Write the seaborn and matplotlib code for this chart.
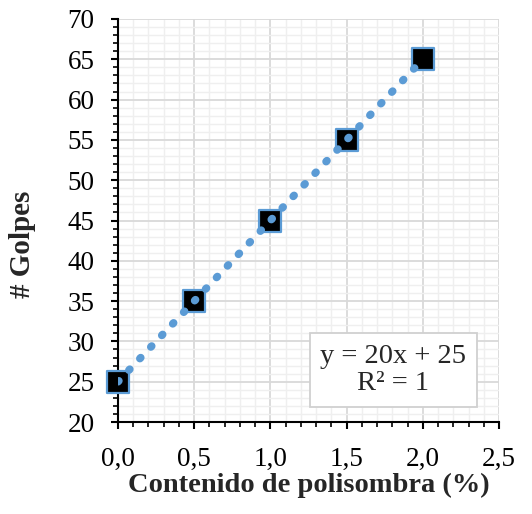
import matplotlib
matplotlib.use("Agg")
import matplotlib.pyplot as plt
import seaborn as sns
import numpy as np
import pandas as pd
from matplotlib.ticker import MultipleLocator, FuncFormatter

# Data
contenido = [0.0, 0.5, 1.0, 1.5, 2.0]
golpes = [25, 35, 45, 55, 65]
x_ticks = [0.0, 0.5, 1.0, 1.5, 2.0, 2.5]
y_ticks = [20, 25, 30, 35, 40, 45, 50, 55, 60, 65, 70]
eq_text = "y = 20x + 25\nR² = 1"
x_label = "Contenido de polisombra (%)"
y_label = "# Golpes"

df = pd.DataFrame({"x": contenido, "y": golpes})

sns.set_theme(style="white")
plt.rcParams["font.family"] = ["Liberation Serif", "DejaVu Serif"]

fig = plt.figure(figsize=(5.32, 5.14), dpi=100)
ax = fig.add_axes([118/532, 1-422/514, (499-118)/532, (422-19)/514])

blue = "#5B9BD5"

sns.scatterplot(data=df, x="x", y="y", marker="s", s=240, color="black",
                edgecolor=blue, linewidth=1.6, ax=ax, zorder=3, clip_on=False)
sns.regplot(data=df, x="x", y="y", scatter=False, ci=None, ax=ax,
            line_kws=dict(color=blue, linewidth=5.6, linestyle=(0, (0.15, 1.9)),
                          dash_capstyle="round", solid_capstyle="round", zorder=4))

ax.set_xlim(0, 2.5)
ax.set_ylim(20, 70)
ax.set_xticks(x_ticks)
ax.set_yticks(y_ticks)
ax.xaxis.set_minor_locator(MultipleLocator(0.1))
ax.yaxis.set_minor_locator(MultipleLocator(1))
ax.xaxis.set_major_formatter(FuncFormatter(lambda v, p: f"{v:.1f}".replace(".", ",")))
ax.yaxis.set_major_formatter(FuncFormatter(lambda v, p: f"{int(round(v))}"))

ax.grid(which="major", color="#d9d9d9", lw=1.3, zorder=0)
ax.grid(which="minor", color="#efefef", lw=1.0, zorder=0)
ax.set_axisbelow(True)

for s in ["top", "right"]:
    ax.spines[s].set_visible(False)
for s in ["left", "bottom"]:
    ax.spines[s].set_color("black")
    ax.spines[s].set_linewidth(1.5)

ax.tick_params(which="major", direction="out", length=5, width=1.5,
               color="black", labelsize=19.5, labelcolor="black",
               bottom=True, left=True)
ax.tick_params(axis="x", which="major", pad=13)
ax.tick_params(axis="y", which="major", pad=12)
ax.tick_params(which="minor", direction="out", length=3.6, width=1.2,
               color="black", bottom=True, left=True)

ax.set_xlabel(x_label, fontsize=20.5, fontweight="bold")
ax.set_ylabel(y_label, fontsize=21, fontweight="bold")
ax.xaxis.set_label_coords(0.5, -0.127)
ax.yaxis.set_label_coords(-0.215, 0.44)

ax.text(0.723, 0.129, eq_text, transform=ax.transAxes, ha="center", va="center",
        fontsize=20.5, linespacing=1.15, zorder=5,
        bbox=dict(boxstyle="square,pad=0.38", facecolor="white",
                  edgecolor="#d0d0d0", lw=1.3))

fig.savefig("out.png", dpi=100)
